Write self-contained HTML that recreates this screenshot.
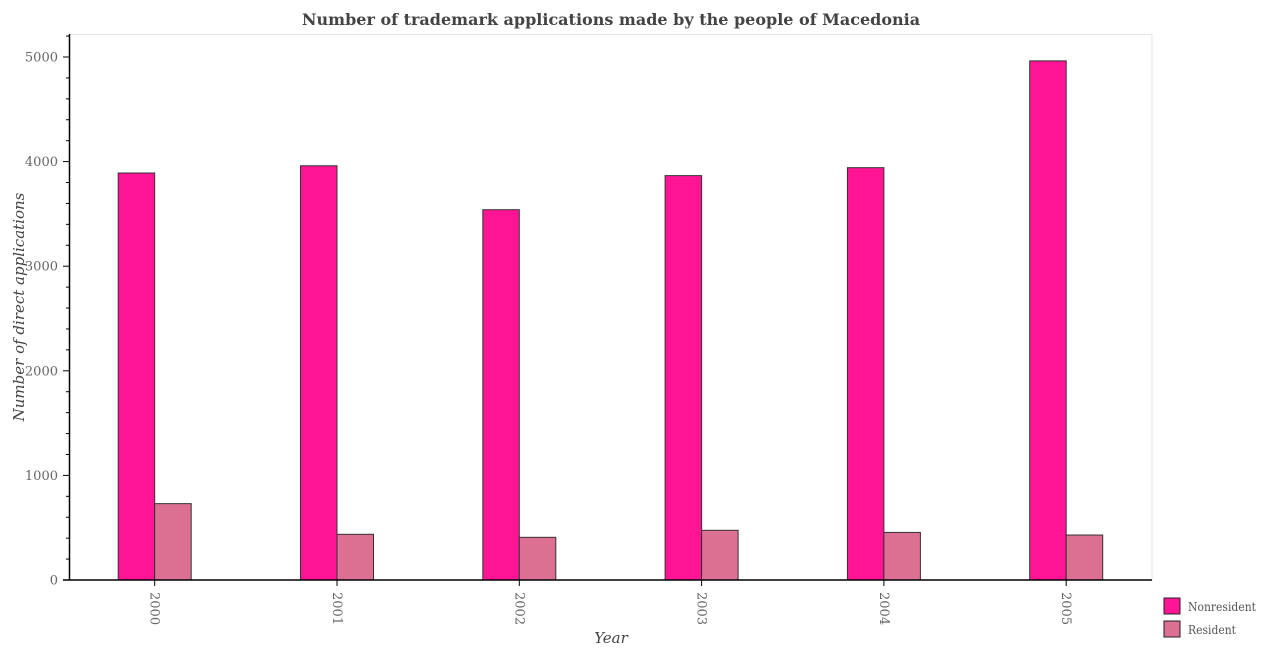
<!DOCTYPE html>
<html><head><meta charset="utf-8"><style>
body{margin:0;background:#fff;}
svg{display:block;font-family:"DejaVu Serif","Liberation Serif",serif;}
</style></head><body>
<svg id="chart" width="1266" height="650">
<text x="611" y="25" text-anchor="middle" font-size="16" font-weight="bold" fill="#444">Number of trademark applications made by the people of Macedonia</text>
<rect x="69.5" y="34.5" width="1082.5" height="545.5" fill="#fff" stroke="#e6e6e6"/>
<g id="bars"></g>
<g id="axes"></g>
<text transform="translate(24,307) rotate(-90)" text-anchor="middle" font-size="15" font-style="italic" fill="#444">Number of direct applications</text>
<text x="611" y="643" text-anchor="middle" font-size="15" font-style="italic" fill="#444">Year</text>
<g>
<rect x="1164" y="598" width="16" height="16" fill="#ff1493" stroke="#222"/>
<text x="1188" y="611" font-size="12" textLength="68" lengthAdjust="spacingAndGlyphs" fill="#555">Nonresident</text>
<rect x="1164" y="621" width="16" height="16" fill="#db7093" stroke="#222"/>
<text x="1188" y="634" font-size="12" textLength="48" lengthAdjust="spacingAndGlyphs" fill="#555">Resident</text>
</g>
</svg>
<script>
const years = ["2000","2001","2002","2003","2004","2005"];
const nonresident = [3891, 3960, 3540, 3866, 3942, 4963];
const resident = [730, 437, 408, 475, 455, 430];
const yTicks = [0, 1000, 2000, 3000, 4000, 5000];

const NS = "http://www.w3.org/2000/svg";
const y0 = 580, pxPer = 104.6/1000;
function yScale(v){ return y0 - v*pxPer; }
function xCenter(i){ return 154.7 + i*182.3; }
const bw = 36.5;
function mk(tag, attrs, parent){
  const e = document.createElementNS(NS, tag);
  for (const k in attrs) e.setAttribute(k, attrs[k]);
  parent.appendChild(e); return e;
}
const bars = document.getElementById('bars');
const axes = document.getElementById('axes');
years.forEach((yr, i) => {
  const c = xCenter(i);
  const b1 = mk('rect', {x: c-bw, y: yScale(nonresident[i]), width: bw, height: y0-yScale(nonresident[i]), fill:'#ff1493', stroke:'#333', 'stroke-width':1}, bars);
  
  
  const b2 = mk('rect', {x: c, y: yScale(resident[i]), width: bw, height: y0-yScale(resident[i]), fill:'#db7093', stroke:'#333', 'stroke-width':1}, bars);
  
  
  mk('line', {x1:c, x2:c, y1:580, y2:586, stroke:'#000'}, axes);
  const t = mk('text', {transform:`translate(${c-4},592) rotate(90)`, 'font-size':13, fill:'#666'}, axes);
  t.textContent = yr;
  
  
});
mk('line', {x1:63, x2:1152, y1:580, y2:580, stroke:'#000', 'stroke-width':1.5}, axes);
mk('line', {x1:69.5, x2:69.5, y1:34, y2:580, stroke:'#000', 'stroke-width':1.5}, axes);
for (let v = 0; v <= 5200; v += 200) {
  const yy = yScale(v);
  if (yy < 34) break;
  const major = v % 1000 === 0;
  mk('line', {x1: major?63:66, x2:69.5, y1:yy, y2:yy, stroke:'#000'}, axes);
}
yTicks.forEach(v => {
  const t = mk('text', {x:58, y:yScale(v)+4.5, 'text-anchor':'end', 'font-size':13, fill:'#666'}, axes);
  t.textContent = v;
  
  
});
</script>
</body></html>
